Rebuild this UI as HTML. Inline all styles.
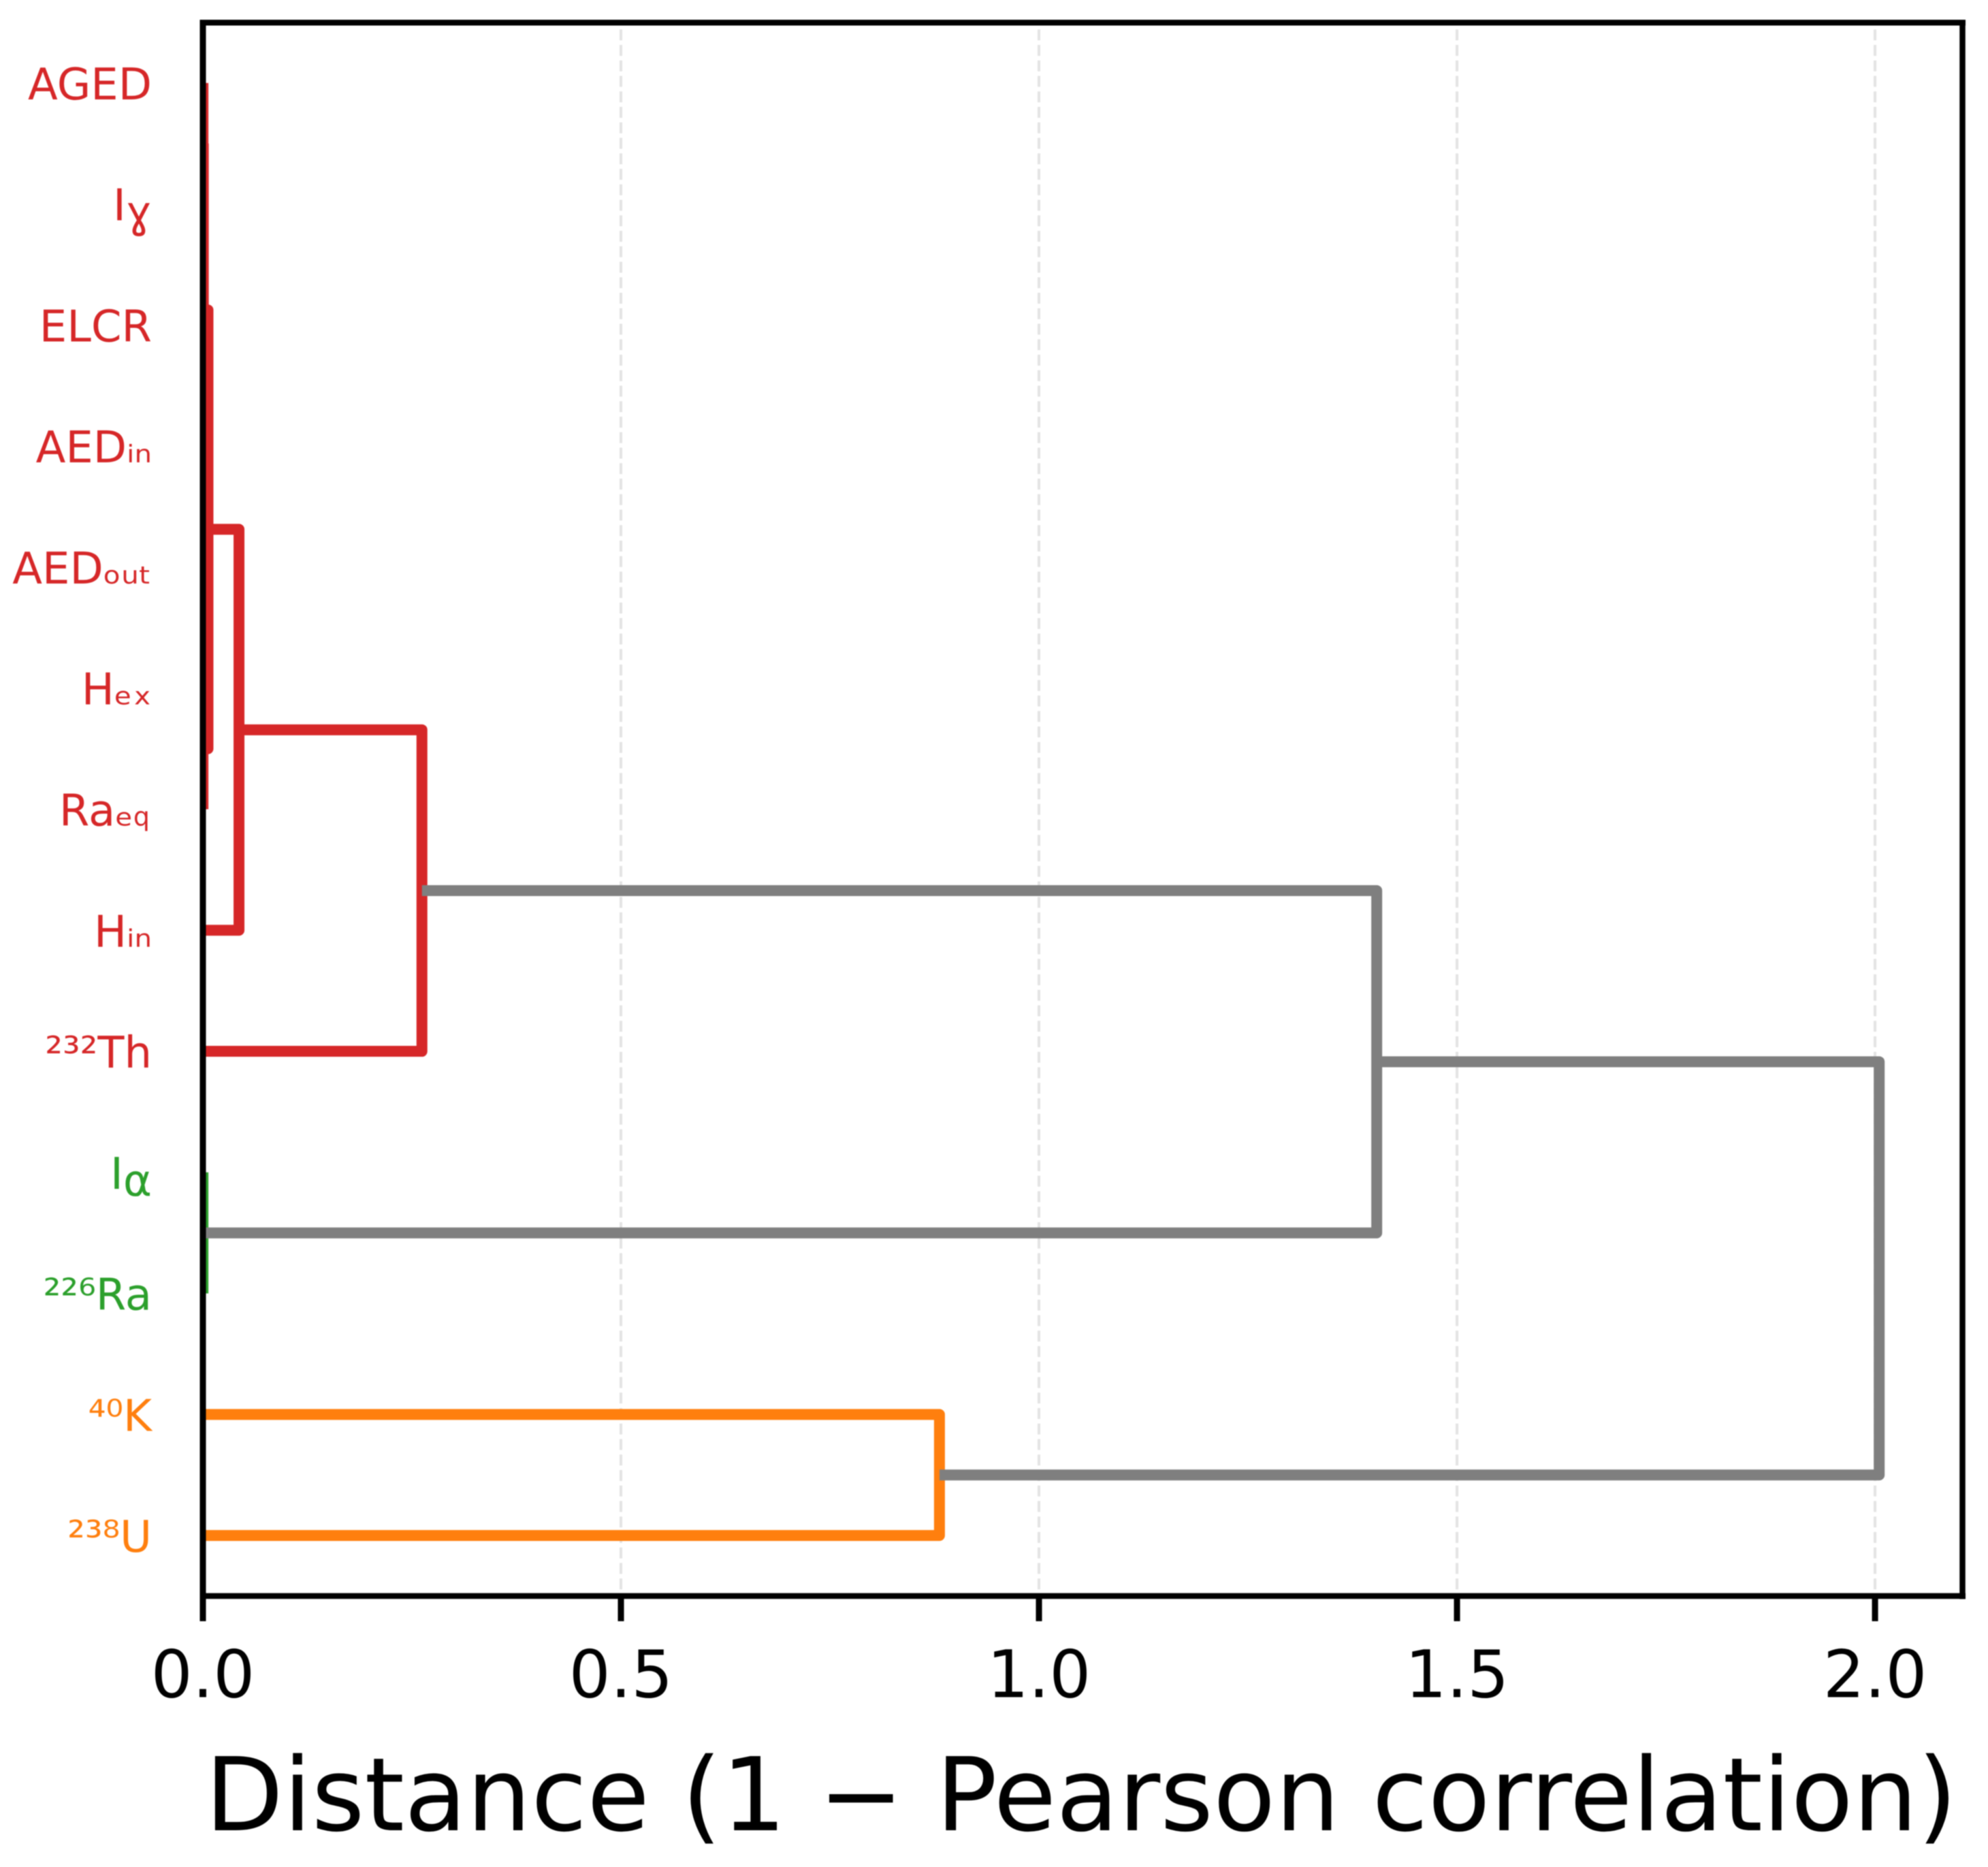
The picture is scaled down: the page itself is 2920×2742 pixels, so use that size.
<!DOCTYPE html>
<html lang="en">
<head>
<meta charset="utf-8">
<title>Dendrogram</title>
<style>
html,body{margin:0;padding:0;background:#fff;width:2920px;height:2742px;overflow:hidden}
svg{display:block;filter:blur(0.7px)}
text{font-family:"DejaVu Sans","Liberation Sans",sans-serif}
</style>
</head>
<body>
<svg id="chart" xmlns="http://www.w3.org/2000/svg" width="2920" height="2742" viewBox="0 0 2920 2742">
<defs><clipPath id="plot-clip"><rect x="298" y="33" width="2585" height="2311"/></clipPath></defs>
<rect x="0" y="0" width="2920" height="2742" fill="#fff"/>
<g id="grid"></g>
<g id="links" clip-path="url(#plot-clip)"></g>
<g id="frame">
<line x1="298" y1="29" x2="298" y2="2381" stroke="#000" stroke-width="9"/>
<line x1="293.5" y1="33.3" x2="2887" y2="33.3" stroke="#000" stroke-width="8.5"/>
<line x1="2882.5" y1="29" x2="2882.5" y2="2348.5" stroke="#000" stroke-width="8.5"/>
<line x1="293.5" y1="2344" x2="2887" y2="2344" stroke="#000" stroke-width="8.5"/>
</g>
<g id="xticks"></g>
<g id="ylabels"></g>
<text x="1588" y="2688" text-anchor="middle" font-size="149.3" fill="#000">Distance (1 − Pearson correlation)</text>
</svg>
<script>
var leafLabels = ["AGED","Iɣ","ELCR","AEDᵢₙ","AEDₒᵤₜ","Hₑₓ","Raₑq","Hᵢₙ","²³²Th","Iα","²²⁶Ra","⁴⁰K","²³⁸U"];
var leafGroups = ["red","red","red","red","red","red","red","red","red","green","green","orange","orange"];
var mergeLeft  = [0, 2, 14, 13, 5, 16, 18, 19, 9, 20, 11, 22];
var mergeRight = [1, 3, 4, 15, 6, 17, 7, 8, 10, 21, 12, 23];
var mergeDistance = [0.0001, 0.0001, 0.0003, 0.0005, 0.0001, 0.0061, 0.0432, 0.262, 0.0001, 1.404, 0.881, 2.005];
var mergeGroups = ["red","red","red","red","red","red","red","red","green","gray","orange","gray"];
var xTicks = [0, 0.5, 1, 1.5, 2];
var xTickLabels = ["0.0","0.5","1.0","1.5","2.0"];
var xDomain = [0, 2.105];
var palette = {red:"#d62728", green:"#2ca02c", orange:"#ff7f0e", gray:"#7f7f7f"};

var SVGNS = "http://www.w3.org/2000/svg";
function X(v){ return 298 + (v - xDomain[0]) / (xDomain[1] - xDomain[0]) * 2585; }
function Y(rank){ return 33 + (rank + 0.5) * (2311 / leafLabels.length); }
function mk(tag, attrs, parent){
  var e = document.createElementNS(SVGNS, tag);
  for (var k in attrs) e.setAttribute(k, attrs[k]);
  parent.appendChild(e);
  return e;
}

var gridG = document.getElementById("grid");
var ticksG = document.getElementById("xticks");
xTicks.forEach(function(t, i){
  var g = mk("line", {x1:X(t), x2:X(t), y1:43.3, y2:2340, stroke:"#e3e3e3", "stroke-width":4, "stroke-dasharray":"16 6.75"}, gridG);
  
  
  var m = mk("line", {x1:X(t), x2:X(t), y1:2344, y2:2381, stroke:"#000", "stroke-width":9}, ticksG);
  
  
  var l = mk("text", {x:X(t), y:2492.5, "text-anchor":"middle", "font-size":96, fill:"#000"}, ticksG);
  l.textContent = xTickLabels[i];
  
  
});

var labelsG = document.getElementById("ylabels");
leafLabels.forEach(function(s, i){
  var last = s.slice(-1);
  var hasQ = last === "q";
  var t = mk("text", {x:hasQ ? 220 : 223, y:Y(i) + 24, "text-anchor":"end", "font-size":64, fill:palette[leafGroups[i]]}, labelsG);
  if (hasQ) {
    t.textContent = s.slice(0, -1);
    var q = mk("tspan", {"font-size":38}, t);
    q.textContent = "q";
  } else if (last === "α" || last === "ɣ") {
    t.textContent = s.slice(0, -1);
    var sub = mk("tspan", {dy:10}, t);
    sub.textContent = last;
  } else {
    t.textContent = s;
  }
  
  
});

var linksG = document.getElementById("links");
var nodeY = leafLabels.map(function(_, i){ return Y(i); });
var nodeD = leafLabels.map(function(){ return 0; });
mergeDistance.forEach(function(d, i){
  var a = mergeLeft[i], b = mergeRight[i];
  var xd = X(d);
  var pts = [];
  if (Math.abs(X(nodeD[a]) - xd) >= 1.5) pts.push([X(nodeD[a]), nodeY[a]]);
  pts.push([xd, nodeY[a]]);
  pts.push([xd, nodeY[b]]);
  if (Math.abs(X(nodeD[b]) - xd) >= 1.5) pts.push([X(nodeD[b]), nodeY[b]]);
  var p = pts.map(function(q, k){ return (k ? "L" : "M") + q[0] + " " + q[1]; }).join("");
  var path = mk("path", {d:p, fill:"none", stroke:palette[mergeGroups[i]], "stroke-width":16, "stroke-linejoin":"round", "stroke-linecap":"butt"}, linksG);
  
  
  nodeY.push((nodeY[a] + nodeY[b]) / 2);
  nodeD.push(d);
});
</script>
</body>
</html>
